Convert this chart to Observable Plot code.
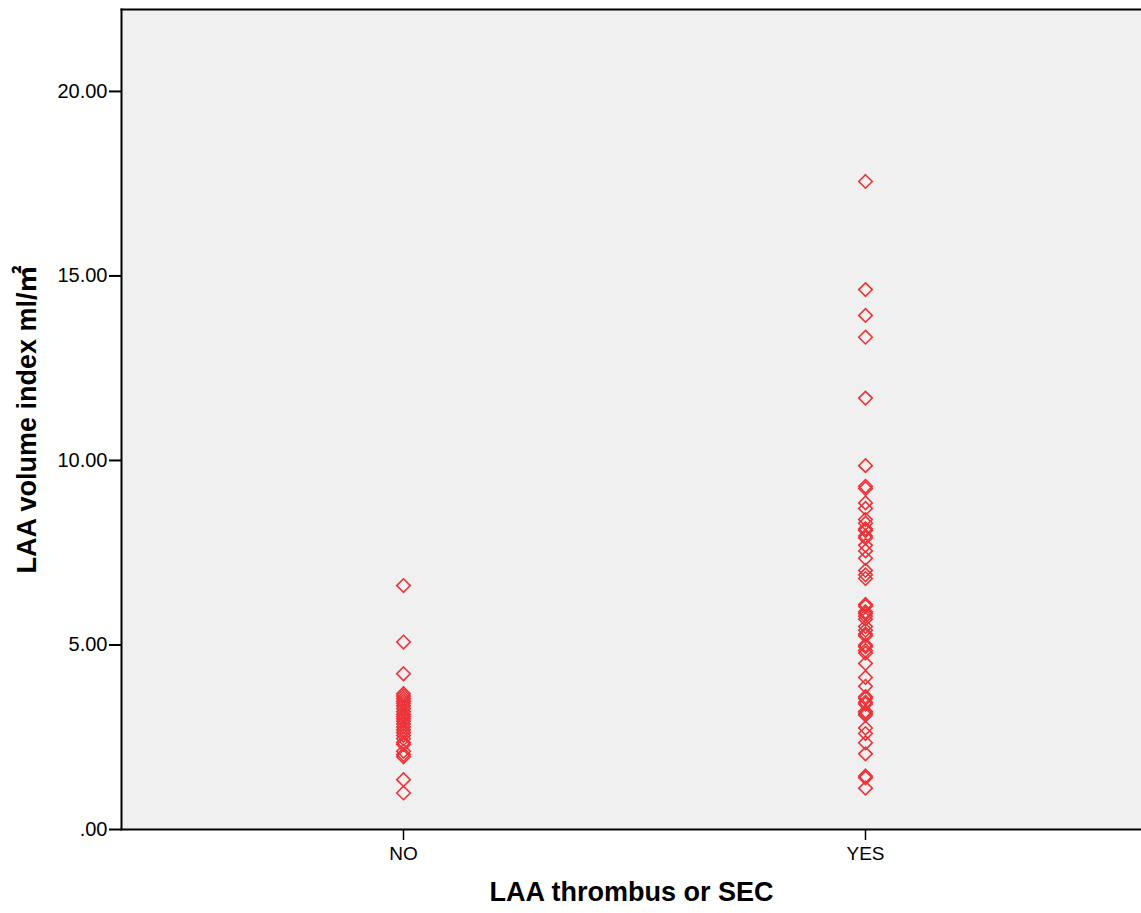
<!DOCTYPE html>
<html>
<head>
<meta charset="utf-8">
<script src="https://cdn.jsdelivr.net/npm/d3@7"></script>
<script src="https://cdn.jsdelivr.net/npm/@observablehq/plot@0.6"></script>
<style>
  html, body { margin: 0; padding: 0; background: #ffffff; }
  #chart svg { display: block; }
</style>
</head>
<body>
<div id="chart"></div>
<script>
// Categories and data
const groups = ["NO", "YES"];
const noValues = [6.61, 5.08, 4.22, 3.68, 3.62, 3.55, 3.48, 3.42, 3.35, 3.28, 3.20, 3.12, 3.06, 3.00, 2.93, 2.86, 2.78, 2.70, 2.63, 2.55, 2.46, 2.36, 2.30, 2.12, 2.03, 1.97, 1.35, 0.99];
const yesValues = [17.56, 14.63, 13.93, 13.34, 11.69, 9.86, 9.30, 9.24, 8.85, 8.70, 8.40, 8.30, 8.15, 8.10, 7.95, 7.90, 7.70, 7.55, 7.35, 7.02, 6.90, 6.80, 6.10, 6.05, 5.90, 5.85, 5.78, 5.70, 5.50, 5.40, 5.30, 5.25, 5.00, 4.95, 4.85, 4.78, 4.50, 4.12, 3.88, 3.60, 3.55, 3.45, 3.40, 3.20, 3.15, 3.10, 2.75, 2.60, 2.35, 2.05, 1.45, 1.40, 1.12];
const yTicks = [0, 5, 10, 15, 20];
const yTickLabels = [".00", "5.00", "10.00", "15.00", "20.00"];
const xTitle = "LAA thrombus or SEC";
const yTitle = "LAA volume index ml/㎡";

const data = [
  ...noValues.map(v => ({group: "NO", value: v})),
  ...yesValues.map(v => ({group: "YES", value: v}))
];

const font = "'Liberation Sans', Arial, 'Noto Sans CJK SC', sans-serif";

const chart = Plot.plot({
  width: 1141,
  height: 913,
  marginLeft: 121,
  marginRight: 0,
  marginTop: 9,
  marginBottom: 84,
  style: {background: "#ffffff", fontFamily: font, color: "#000"},
  x: {type: "point", domain: groups, padding: 0.5, insetLeft: 51, insetRight: 45, label: null},
  y: {domain: [0, 22.22], label: null},
  marks: [
    Plot.frame({fill: "#f0f0f0"}),
    Plot.frame({anchor: "left", stroke: "#000", strokeWidth: 2}),
    Plot.frame({anchor: "top", stroke: "#000", strokeWidth: 2}),
    Plot.frame({anchor: "bottom", stroke: "#000", strokeWidth: 2}),
    Plot.axisY({
      ticks: yTicks,
      tickFormat: d => yTickLabels[yTicks.indexOf(d)],
      tickSize: 12,
      tickPadding: 2,
      fontSize: 20,
      strokeWidth: 2,
      label: null
    }),
    Plot.axisX({
      tickSize: 11,
      tickPadding: 6,
      fontSize: 19,
      strokeWidth: 1.5,
      label: null
    }),
    Plot.dot(data, {
      x: "group",
      y: "value",
      symbol: "diamond2",
      r: 6.1,
      stroke: "#ec3338",
      strokeWidth: 1.6,
      fill: "none"
    }),
    Plot.text([xTitle], {
      frameAnchor: "bottom",
      textAnchor: "middle",
      dy: 71,
      fontSize: 27,
      fontWeight: "bold",
      fill: "#000"
    }),
    Plot.text([yTitle], {
      frameAnchor: "left",
      textAnchor: "middle",
      rotate: -90,
      dx: -94,
      fontSize: 27,
      fontWeight: "bold",
      fill: "#000"
    })
  ]
});

document.getElementById("chart").appendChild(chart);
</script>
</body>
</html>
